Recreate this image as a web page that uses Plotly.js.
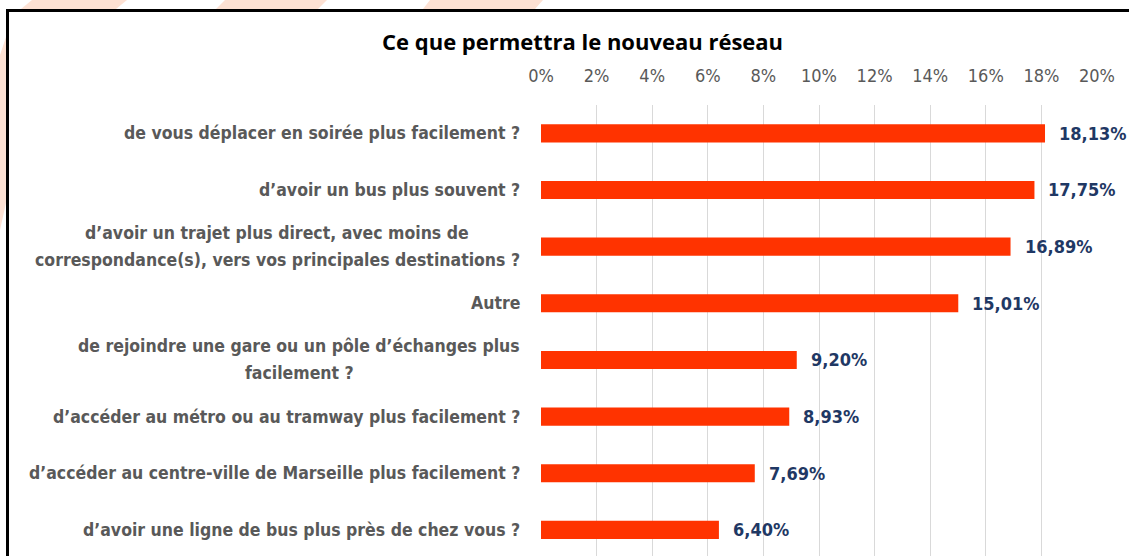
<!DOCTYPE html>
<html>
<head>
<meta charset="utf-8">
<script src="https://cdn.plot.ly/plotly-3.0.1.min.js"></script>
<style>
  html, body { margin:0; padding:0; width:1129px; height:556px; overflow:hidden; background:#fff; }
  #deco { position:absolute; left:0; top:0; }
  #box { position:absolute; left:6px; top:9px; right:-10px; bottom:-10px; background:#fff;
         border-left:3px solid #000; border-top:3px solid #000; }
  #chart { position:absolute; left:0; top:0; width:1129px; height:556px; }
</style>
</head>
<body>
<svg id="deco" width="1129" height="556">
  <polygon points="32,0 127,0 116,9 21,9" fill="#FDE1D3"/>
  <polygon points="225,0 327,0 318,9 216,9" fill="#FDE1D3"/>
  <polygon points="430,0 543,0 535,9 423,9" fill="#FDE1D3"/>
  <polygon points="0,55 6,37 6,203 0,230" fill="#FDE1D3"/>
</svg>
<div id="box"></div>
<div id="chart"></div>
<script>
const categories = [
  "de vous déplacer en soirée plus facilement ?",
  "d’avoir un bus plus souvent ?",
  "d’avoir un trajet plus direct, avec moins de<br>correspondance(s), vers vos principales destinations ?",
  "Autre",
  "de rejoindre une gare ou un pôle d’échanges plus<br>facilement ?",
  "d’accéder au métro ou au tramway plus facilement ?",
  "d’accéder au centre-ville de Marseille plus facilement ?",
  "d’avoir une ligne de bus plus près de chez vous ?"
];
const values = [18.13, 17.75, 16.89, 15.01, 9.20, 8.93, 7.69, 6.40];
const tickValues = [0, 2, 4, 6, 8, 10, 12, 14, 16, 18, 20];
const chartTitle = "Ce que permettra le nouveau réseau";

const FONT = "'DejaVu Sans Condensed', 'Open Sans', sans-serif";
const LABEL_SIZE = 17.5;
const LINE_GAP = 27;
const LABEL_PAD = 21;

const ctx = document.createElement('canvas').getContext('2d');
ctx.font = "bold " + LABEL_SIZE + "px " + FONT;

const trace = {
  type: 'bar',
  orientation: 'h',
  x: values,
  y: categories,
  marker: { color: '#FF3300', line: { width: 0 } },
  hoverinfo: 'skip'
};

const annotations = [];
categories.forEach((c, i) => {
  const lines = c.split('<br>');
  const maxW = Math.max(...lines.map(l => ctx.measureText(l).width));
  lines.forEach((line, k) => {
    annotations.push({
      xref: 'paper', yref: 'y', x: 0, y: c,
      xanchor: 'center', yanchor: 'middle',
      xshift: -LABEL_PAD - maxW / 2,
      yshift: ((lines.length - 1) / 2 - k) * LINE_GAP,
      text: line, showarrow: false,
      font: { family: FONT, size: LABEL_SIZE, color: '#595959', weight: 'bold' }
    });
  });
  annotations.push({
    xref: 'x', yref: 'y', x: values[i], y: c,
    xanchor: 'left', yanchor: 'middle', xshift: 12,
    text: values[i].toFixed(2).replace('.', ',') + '%', showarrow: false,
    font: { family: FONT, size: 18, color: '#1F3864', weight: 'bold' }
  });
});

const layout = {
  width: 1129, height: 556,
  margin: { l: 541, r: 32, t: 105, b: 0, pad: 0 },
  paper_bgcolor: 'rgba(0,0,0,0)',
  plot_bgcolor: 'rgba(0,0,0,0)',
  showlegend: false,
  bargap: 0.68,
  separators: ',.',
  title: {
    text: chartTitle,
    x: 0.516, xref: 'container', xanchor: 'center',
    y: 1 - 42/556, yref: 'container', yanchor: 'middle',
    font: { family: "'Open Sans', sans-serif", size: 22, color: '#000', weight: 'bold' }
  },
  xaxis: {
    side: 'top',
    range: [0, 20],
    tickvals: tickValues,
    ticktext: tickValues.map(v => v + '%'),
    showgrid: true, gridcolor: '#D9D9D9', gridwidth: 1,
    zeroline: false, showline: false,
    ticks: 'outside', ticklen: 15, tickcolor: 'rgba(0,0,0,0)',
    tickfont: { family: FONT, size: 18, color: '#595959' },
    fixedrange: true
  },
  yaxis: {
    type: 'category',
    range: [7.46, -0.5],
    showticklabels: false,
    showgrid: false, zeroline: false, showline: false, ticks: '',
    fixedrange: true
  },
  annotations: annotations
};

Plotly.newPlot('chart', [trace], layout, { displayModeBar: false, staticPlot: true });
</script>
</body>
</html>
